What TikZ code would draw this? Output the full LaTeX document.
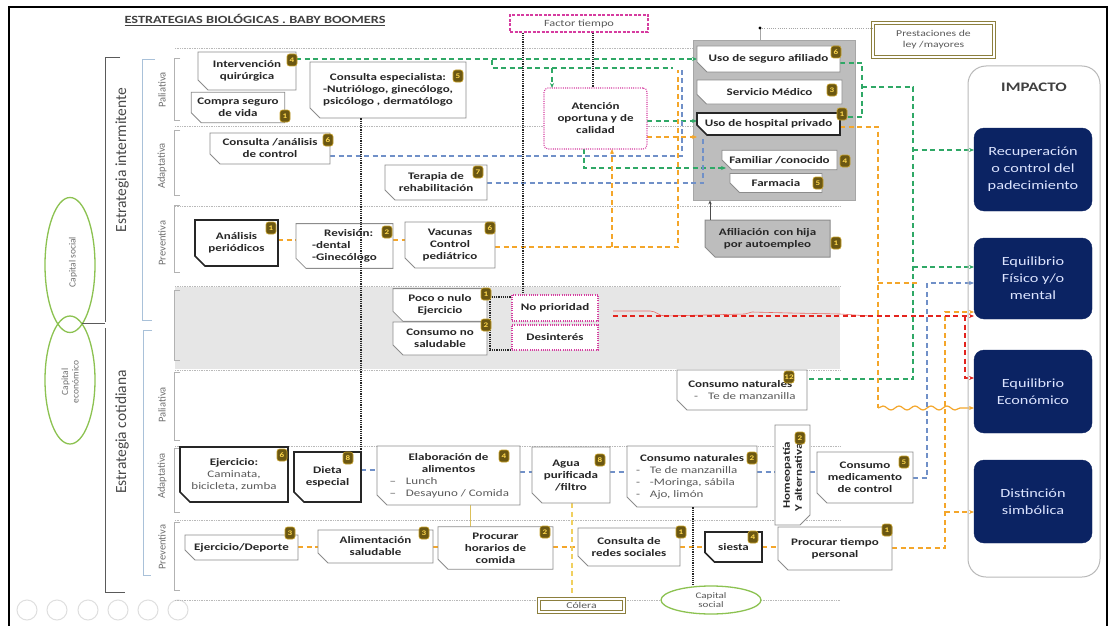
\documentclass[tikz,border=0pt]{standalone}
\usepackage{fontspec}
\setmainfont{Carlito}[FakeStretch=1.3]
\newfontfamily\upfont{Carlito}
\usetikzlibrary{shapes.misc,shapes.geometric,arrows.meta,decorations.pathmorphing,calc}

\definecolor{boxline}{HTML}{8C8C8C}
\definecolor{txtdark}{HTML}{262626}
\definecolor{txtgray}{HTML}{5A5A5A}
\definecolor{lblgray}{HTML}{707070}
\definecolor{badgef}{HTML}{6B5712}
\definecolor{badged}{HTML}{C9A227}
\definecolor{badget}{HTML}{FFD84D}
\definecolor{navy}{HTML}{0B2363}
\definecolor{navytxt}{HTML}{DCE4FF}
\definecolor{pinkd}{HTML}{D63CA0}
\definecolor{grn}{HTML}{2FA866}
\definecolor{blu}{HTML}{7090C8}
\definecolor{org}{HTML}{F4A62A}
\definecolor{ylw}{HTML}{F0D060}
\definecolor{redd}{HTML}{E3241E}
\definecolor{olivb}{HTML}{8C7F3E}
\definecolor{ellg}{HTML}{8CC251}
\definecolor{bandg}{HTML}{E6E6E6}
\definecolor{panelg}{HTML}{BDBDBD}
\definecolor{brk}{HTML}{5A5A5A}
\definecolor{brkl}{HTML}{A9C1D9}

\newcommand\bxfont{\fontsize{10}{12}\selectfont\bfseries}
\newcommand\lite[1]{{\mdseries\color{txtgray}#1}}

\tikzset{
  bx/.style={chamfered rectangle, chamfered rectangle corners=south west,
    chamfered rectangle xsep=5pt, chamfered rectangle ysep=5pt,
    draw=boxline, line width=0.8pt, fill=white, inner sep=1pt,
    font=\bxfont, text=txtdark, align=center},
  bxthick/.style={bx, draw=black!85, line width=1.6pt},
  bxgray/.style={bx, fill=panelg, draw=black!45, line width=1pt},
  pk/.style={draw=pinkd, line width=1.1pt, dash pattern=on 1pt off 1.2pt,
    rounded corners=4pt, fill=white, font=\bxfont, text=txtdark, align=center},
  bdg/.style={rectangle, rounded corners=2.5pt, fill=badgef, draw=badged,
    line width=0.6pt, text=badget, font=\fontsize{7}{7}\selectfont\bfseries,
    minimum width=10pt, minimum height=12pt, inner sep=0.5pt},
  navybox/.style={rectangle, rounded corners=10pt, fill=navy, draw=navy,
    text=navytxt, align=center, font=\fontsize{12.5}{17}\selectfont,
    minimum width=118pt},
  dbl/.style={draw=olivb, line width=0.8pt, double=white, double distance=1.6pt,
    fill=white, text=txtgray, font=\fontsize{9}{11}\selectfont, align=center},
  rowline/.style={draw=gray!55, line width=0.6pt, dash pattern=on 0.7pt off 1pt},
  bdot/.style={draw=black!85, line width=1.3pt, dash pattern=on 1.1pt off 1.1pt},
  cnx/.style={line width=1.2pt, dash pattern=on 5pt off 3.5pt},
  tip/.style={-{Stealth[length=5pt,width=4pt]}},
  gr/.style={cnx, draw=grn},
  bl/.style={cnx, draw=blu},
  og/.style={cnx, draw=org},
  rd/.style={cnx, draw=redd},
  yl/.style={cnx, draw=ylw},
  lbl/.style={rotate=90, font=\upfont\fontsize{10.5}{11}\selectfont, text=lblgray},
  bigl/.style={rotate=90, font=\upfont\fontsize{15.5}{17}\selectfont, text=txtgray!80!black},
  brkline/.style={draw=brk, line width=0.8pt},
  brklite/.style={draw=brkl, line width=1pt},
  subbrk/.style={draw=gray!60, line width=0.6pt},
}

\begin{document}
\begin{tikzpicture}[x=1pt,y=-1pt]
\useasboundingbox (0,0) rectangle (1116,626);
\fill[white] (0,0) rectangle (1116,626);
% outer frame
\draw[black, line width=2pt] (9,626) -- (9,7) -- (1107,7) -- (1107,626);

% grey band and row separators
\fill[bandg] (175,287) rectangle (840,369);
\draw[rowline] (175,48) -- (693,48);
\draw[rowline] (175,126) -- (693,126);
\draw[rowline] (175,206) -- (840,206);
\draw[rowline] (175,286) -- (840,286);
\draw[rowline] (175,370) -- (840,370);
\draw[rowline] (175,446) -- (840,446);
\draw[rowline] (175,520) -- (840,520);

% title
\node[anchor=west, font=\fontsize{11}{12}\selectfont\bfseries, text=black!75] (ttl) at (121,20)
  {\underline{ESTRATEGIAS BIOLÓGICAS . BABY BOOMERS}};

% left brackets and labels
\draw[brkline] (120,57) -- (105,57) -- (105,322);
\draw[brkline] (105,328) -- (105,592) -- (125,592);
\draw[brklite] (155,60) -- (142,60) -- (142,320) -- (152,320);
\draw[brklite] (152,330) -- (143,330) -- (143,575) -- (151,575);
\foreach \a/\b in {58/120,130/195,205/272,290/360,372/440,448/512,522/590}
  \draw[subbrk] (180,\a) -- (174,\a) -- (174,\b) -- (180,\b);
\node[bigl] (lint) at (122,160) {Estrategia intermitente};
\node[bigl] (lcot) at (122,432) {Estrategia cotidiana};
\node[lbl] (l1) at (162,90) {Paliativa};
\node[lbl] (l2) at (162,166) {Adaptativa};
\node[lbl] (l3) at (162,243) {Preventiva};
\node[lbl] (l4) at (162,405) {Paliativa};
\node[lbl] (l5) at (162,476) {Adaptativa};
\node[lbl] (l6) at (162,547) {Preventiva};

% capital ellipses
\node[ellipse, draw=ellg, line width=1.3pt, minimum width=50pt, minimum height=135pt] (csoc) at (70,265) {};
\node[ellipse, draw=ellg, line width=1.3pt, minimum width=50pt, minimum height=128pt] (ceco) at (70,380) {};
\node[lbl, font=\upfont\fontsize{9.5}{10.5}\selectfont] (csoct) at (73,262) {Capital social};
\node[lbl, font=\upfont\fontsize{9.5}{10.5}\selectfont, align=center] (cecot) at (70,382) {Capital\\económico};
\coordinate (cj) at (82,323);
\draw[brkline] (cj) -- (105,323);

% presentation controls
\foreach \cx in {27,57,88,118,148,178}
  \draw[gray!25, line width=1pt] (\cx,610) circle (10pt);

% ===== top boxes =====
\node[pk, draw=pinkd, line width=1.3pt, dash pattern=on 3pt off 1.5pt, rounded corners=0pt,
  minimum width=138pt, minimum height=17pt, font=\fontsize{9.5}{11}\selectfont\mdseries, text=txtgray] (ft) at (579,23.5) {Factor tiempo};
\node[dbl, minimum width=121pt, minimum height=34pt] (pl) at (933.5,40) {Prestaciones de\\ley /mayores};

% grey services panel
\node[draw=black!35, fill=panelg, line width=0.8pt, minimum width=162pt, minimum height=160pt] (gp) at (774,120) {};

% ===== connectors (behind boxes) =====
% green
\draw[gr,tip] (296,59) -- (697,59);
\draw[gr] (492,60) -- (492,68) -- (673,68);
\draw[gr,tip] (552,68) -- (552,88);
\draw[gr,tip] (584,149) -- (584,168) -- (726,168);
\draw[gr,tip] (647,121) -- (697,121);
\draw[gr] (840,63) -- (862,63) -- (862,117) -- (842,117);
\draw[gr] (862,87) -- (913,87) -- (913,379) -- (807,379);
\draw[gr,tip] (913,150) -- (974,150);
\draw[gr,tip] (913,267) -- (974,267);
% blue
\draw[bl] (330,156) -- (682,156) -- (682,70);
\draw[bl] (487,183) -- (703,183) -- (703,138);
\draw[bl,tip] (913,478) -- (927,478) -- (927,283) -- (974,283);
\draw[bl] (361,470) -- (377,470);
\draw[bl] (520,472) -- (532,472);
\draw[bl] (610,472) -- (627,472);
\draw[bl] (757,472) -- (775,472);
\draw[bl] (810,472) -- (817,472);
% orange
\draw[og] (278,240) -- (296,240);
\draw[og] (393,240) -- (405,240);
\draw[og] (495,247) -- (678,247) -- (678,70);
\draw[og,tip] (612,247) -- (612,149);
\draw[og,tip] (647,137) -- (697,137);
\draw[og] (840,127) -- (878,127) -- (878,408);
\draw[draw=org, line width=1.2pt, decorate, decoration={snake, amplitude=2pt, segment length=16pt, post length=8pt}, tip] (878,408) -- (974,408);
\draw[og] (878,283) -- (918,283);
\draw[og,tip] (892,548) -- (945,548) -- (945,312) -- (974,312);
\draw[og,tip] (945,512) -- (974,512);
\draw[og] (298,547) -- (318,547);
\draw[og] (433,547) -- (438,547);
\draw[og] (553,547) -- (578,547);
\draw[og] (680,547) -- (705,547);
\draw[og] (762,547) -- (778,547);
% red
\draw[redd!70, line width=0.6pt] (613,311) -- (650,311) to[out=0,in=180] (665,316) -- (745,314) -- (752,312) -- (790,313) -- (840,314) -- (870,316);
\draw[rd,tip] (613,316) -- (974,316);
\draw[rd,tip] (965,316) -- (965,378) -- (974,378);
% light yellow
\draw[yl] (572,503) -- (572,598);
\draw[draw=ylw!80!olivb, line width=0.7pt] (470,505) -- (470,527);

% ===== boxes =====
\node[bx, minimum width=98pt, minimum height=38pt] (iq) at (247,71) {Intervención\\quirúrgica};
\node[bx, minimum width=90pt, minimum height=27pt] (csv) at (238,107.5) {Compra seguro\\de vida};
\node[bx, minimum width=156pt, minimum height=56pt] (ce) at (388,90) {Consulta especialista:\\-Nutriólogo, ginecólogo,\\psicólogo , dermatólogo};
\node[pk, minimum width=103pt, minimum height=61pt] (at) at (595.5,118.5) {Atención\\oportuna y de\\calidad};

\node[bx, minimum width=143pt, minimum height=26pt] (usa) at (768.5,59) {Uso de seguro afiliado};
\node[bx, minimum width=145pt, minimum height=24pt] (sm) at (769.5,92) {Servicio Médico};
\node[bxthick, minimum width=143pt, minimum height=22pt] (uhp) at (768.5,124) {Uso de hospital privado};
\node[bx, minimum width=115pt, minimum height=16pt] (fc) at (779.5,160) {Familiar /conocido};
\node[bx, minimum width=92pt, minimum height=18pt] (fa) at (776,183) {Farmacia};
\node[bxgray, minimum width=125pt, minimum height=37pt] (af) at (767.5,238.5) {Afiliación\, con hija\\por autoempleo};

\node[bx, minimum width=120pt, minimum height=27pt] (cac) at (270,148.5) {Consulta /análisis\\de control};
\node[bx, minimum width=102pt, minimum height=35pt] (tr) at (436,182.5) {Terapia de\\rehabilitación};

\node[bxthick, minimum width=83pt, minimum height=46pt] (ap) at (236.5,243) {Análisis\\periódicos};
\node[bx, minimum width=97pt, minimum height=44pt, align=left] (rv) at (344.5,246) {\hspace{12pt}Revisión:\\-dental\\-Ginecólogo};
\node[bx, minimum width=90pt, minimum height=46pt] (vc) at (450,245) {Vacunas\\Control\\pediátrico};

\node[bx, minimum width=94pt, minimum height=26pt] (pn) at (440,305) {Poco o nulo\\Ejercicio};
\node[bx, minimum width=94pt, minimum height=33pt] (cns) at (440,338.5) {Consumo no\\saludable};
\node[pk, rounded corners=0pt, minimum width=86pt, minimum height=26pt] (np) at (555,308) {No prioridad};
\node[pk, rounded corners=0pt, minimum width=86pt, minimum height=25pt] (ds) at (555,337.5) {Desinterés};

\node[bx, minimum width=130pt, minimum height=40pt, align=left] (cn1) at (742,390) {Consumo naturales\\\lite{\ \ -\quad Te de manzanilla}};

\node[bxthick, minimum width=108pt, minimum height=55pt] (ej) at (234,474.5) {Ejercicio:\\\lite{Caminata,}\\\lite{bicicleta, zumba}};
\node[bxthick, minimum width=67pt, minimum height=50pt] (de) at (327.5,477) {Dieta\\especial};
\node[bx, minimum width=143pt, minimum height=59pt] (ea) at (448.5,475.5) {Elaboración de\\alimentos\\\makebox[118pt][l]{\lite{–\quad Lunch}}\\\makebox[118pt][l]{\lite{–\quad Desayuno / Comida}}};
\node[bx, minimum width=78pt, minimum height=56pt] (ag) at (571,475) {Agua\quad\ \\purificada\\/filtro};
\node[bx, minimum width=130pt, minimum height=61pt] (cn2) at (692,476.5) {Consumo naturales\\\makebox[112pt][l]{\lite{-\quad Te de manzanilla}}\\\makebox[112pt][l]{\lite{-\quad -Moringa, sábila}}\\\makebox[112pt][l]{\lite{-\quad Ajo, limón}}};
\node[bx, rotate=90, minimum width=100pt, minimum height=35pt] (ho) at (792.5,475) {Homeopatía\\Y alternativas};
\node[bx, minimum width=96pt, minimum height=51pt] (cm) at (865,477.5) {Consumo\\medicamento\\de control};

\node[bx, minimum width=113pt, minimum height=25pt] (ed) at (241.5,547.5) {Ejercicio/Deporte};
\node[bx, minimum width=115pt, minimum height=33pt] (as) at (375.5,546.5) {Alimentación\\saludable};
\node[bx, minimum width=115pt, minimum height=42pt] (ph) at (495.5,548) {Procurar\\horarios de\\comida};
\node[bx, minimum width=102pt, minimum height=38pt] (cr) at (629,547) {Consulta de\\redes sociales};
\node[bxthick, minimum width=57pt, minimum height=30pt] (si) at (733.5,547) {siesta};
\node[bx, minimum width=114pt, minimum height=43pt] (pt) at (835,548.5) {Procurar tiempo\\personal};

% bottom labels
\draw[rowline] (175,600) -- (538,600);
\draw[rowline] (625,600) -- (661,600);
\draw[rowline] (761,600) -- (840,600);
\node[dbl, minimum width=85pt, minimum height=13pt, font=\fontsize{9}{10}\selectfont] (co) at (581.5,605.5) {Cólera};
\node[ellipse, draw=ellg, line width=1.3pt, fill=white, minimum width=100pt, minimum height=28pt, inner sep=0pt,
  align=center, text=txtgray, font=\fontsize{8.5}{9}\selectfont] (cs2) at (711,600) {Capital\\social};

% black dotted links
\draw[bdot] (ft.south -| 523,0) -- (np.north -| 523,0);
\draw[bdot] (ft.south -| 593,0) -- (at.north -| 593,0);
\draw[bdot] (ce.south -| 361,0) -- (de.north -| 361,0);
\draw[bdot] (pn.east |- 0,297) -- (np.west |- 0,297);
\draw[bdot] (490,297) -- (490,350) -- (ds.west |- 0,350);
\draw[bdot] (cn2.south -| 693,0) -- (cs2.north -| 693,0);
\draw[gray!70, line width=0.6pt, dash pattern=on 1pt off 1.2pt] (760,28) -- (pl.west |- 0,28);
\draw[gray!70, line width=0.6pt] (760,28) -- (gp.north -| 760,0);
\fill[black] (760,28) circle (1.6pt);
\draw[black!70, line width=0.8pt, -{Stealth[length=4pt,width=3.5pt]}] (af.north -| 710,0) -- (gp.south -| 710,0);

% badges
\foreach \p/\n in {{292,60}/4,{285,116}/1,{458,76}/5,{836,52}/6,{832,90}/3,{842,114}/1,{845,161}/4,
  {818,183}/5,{836,243}/1,{328,140}/6,{478,172}/7,{271,228}/1,{387,232}/2,{490,228}/6,{486,294}/1,
  {486,325}/2,{282,455}/6,{348,458}/8,{504,456}/4,{600,460}/8,{752,458}/2,{800,438}/2,{904,462}/5,
  {290,533}/3,{424,533}/3,{545,532}/2,{681,532}/1,{753,537}/4,{887,530}/1}
  \node[bdg] at (\p) {\n};
\node[bdg] (b12) at (789,377) {12};

% impact panel
\node[draw=gray!55, line width=1pt, rounded corners=18pt, minimum width=132pt, minimum height=511pt] (imp) at (1034,321.5) {};
\node[font=\fontsize{13}{15}\selectfont\bfseries, text=black!75] (impt) at (1034,87) {IMPACTO};
\node[navybox, minimum height=83pt] (r1) at (1033,169.5) {Recuperación\\o control del\\padecimiento};
\node[navybox, minimum height=81pt] (r2) at (1033,278.5) {Equilibrio\\Físico y/o\\mental};
\node[navybox, minimum height=83pt] (r3) at (1033,391.5) {Equilibrio\\Económico};
\node[navybox, minimum height=83pt] (r4) at (1033,501.5) {Distinción\\simbólica};
\end{tikzpicture}
\end{document}
